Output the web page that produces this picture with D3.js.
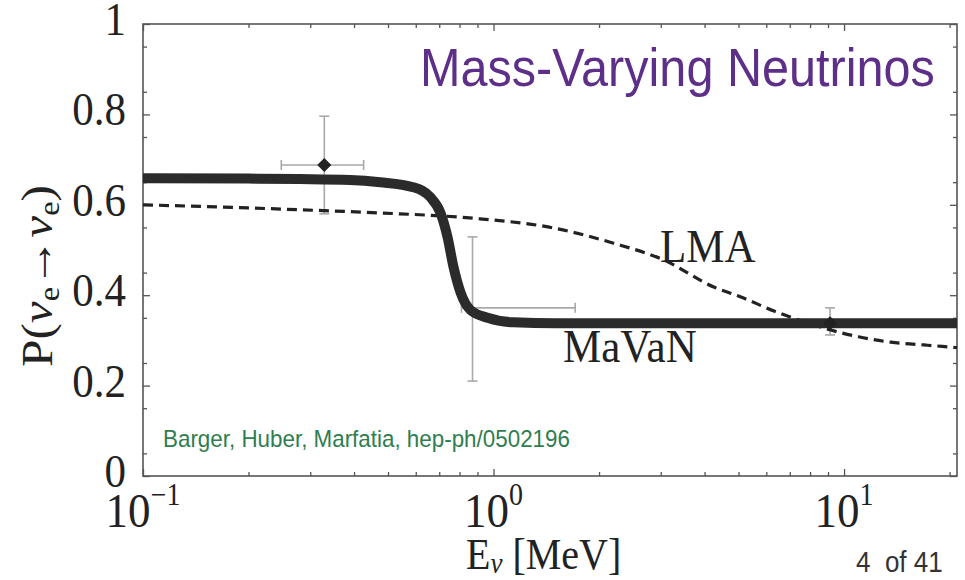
<!DOCTYPE html>
<html>
<head>
<meta charset="utf-8">
<script src="https://cdn.jsdelivr.net/npm/d3@7"></script>
<style>
  body { margin: 0; background: #fff; }
  text { white-space: pre; }
</style>
</head>
<body>
<svg id="grafico" width="965" height="580"></svg>
<script>
// curva MaVaN (linha grossa)
const mavanE = [0.1, 0.2, 0.28, 0.39, 0.475, 0.59, 0.66, 0.706, 0.739, 0.769, 0.806, 0.86, 0.962, 1.14, 1.5, 3, 10, 21];
const mavanP = [0.659, 0.658, 0.657, 0.655, 0.650, 0.639, 0.617, 0.582, 0.529, 0.462, 0.405, 0.367, 0.350, 0.340, 0.338, 0.338, 0.338, 0.338];

// curva LMA (tracejada)
const lmaE = [0.1, 0.2, 0.33, 0.475, 0.914, 1.43, 2.2, 3.06, 4.25, 5.08, 6.31, 7.5, 8.77, 11.0, 13.6, 16.9, 21];
const lmaP = [0.600, 0.593, 0.587, 0.582, 0.569, 0.551, 0.515, 0.478, 0.418, 0.396, 0.365, 0.344, 0.327, 0.308, 0.296, 0.290, 0.284];

// pontos experimentais com barras de erro
const pontoE = [0.329, 0.871, 9.12];
const pontoP = [0.688, 0.372, 0.338];
const pontoEmin = [0.248, 0.81, 9.12];
const pontoEmax = [0.426, 1.71, 9.12];
const pontoPmin = [0.58, 0.21, 0.312];
const pontoPmax = [0.796, 0.529, 0.372];
const pontoMarca = [true, false, true];

// eixos
const yTicks = [0, 0.2, 0.4, 0.6, 0.8, 1];
const yTickLabels = ["0", "0.2", "0.4", "0.6", "0.8", "1"];
const xTicks = [0.1, 1, 10];
const xTickExp = ["\u22121", "0", "1"];

const svg = d3.select("#grafico");
const esq = 143, dir = 957, topo = 24, base = 476;
const serif = "'Liberation Serif', 'DejaVu Serif', serif";
const sans = "'Liberation Sans', Arial, sans-serif";
const esticar = 1.1; // o original está um pouco esticado na vertical

const x = d3.scaleLog().domain([0.1, 21]).range([esq, dir]);
const y = d3.scaleLinear().domain([0, 1]).range([base, topo]);

// ticks menores
const xMenores = [];
[0.1, 1, 10].forEach(d => {
  for (let k = 2; k <= 9; k++) if (k * d <= 21) xMenores.push(k * d);
});
const yMenores = d3.range(0.05, 1, 0.1).map(v => +v.toFixed(2));

function eixo(gerador, transf) {
  const g = svg.append("g").attr("transform", transf).call(gerador);
  g.select(".domain").remove();
  g.selectAll("line").attr("stroke", "#555").attr("stroke-width", 1.3);
  g.selectAll("text").remove();
  return g;
}
eixo(d3.axisBottom(x).tickValues(xTicks).tickSize(-7), `translate(0,${base})`);
eixo(d3.axisBottom(x).tickValues(xMenores).tickSize(-4), `translate(0,${base})`);
eixo(d3.axisTop(x).tickValues(xTicks).tickSize(-7), `translate(0,${topo})`);
eixo(d3.axisTop(x).tickValues(xMenores).tickSize(-4), `translate(0,${topo})`);
eixo(d3.axisLeft(y).tickValues(yTicks).tickSize(-7), `translate(${esq},0)`);
eixo(d3.axisLeft(y).tickValues(yMenores).tickSize(-4), `translate(${esq},0)`);
eixo(d3.axisRight(y).tickValues(yTicks).tickSize(-7), `translate(${dir},0)`);
eixo(d3.axisRight(y).tickValues(yMenores).tickSize(-4), `translate(${dir},0)`);

svg.append("rect")
  .attr("x", esq).attr("y", topo)
  .attr("width", dir - esq).attr("height", base - topo)
  .attr("fill", "none").attr("stroke", "#555").attr("stroke-width", 1.6);

// rótulos do eixo y
yTicks.forEach((v, i) => {
  svg.append("text")
    .attr("transform", `translate(126,${y(v) + 11}) scale(1,${esticar})`)
    .attr("text-anchor", "end")
    .attr("font-family", serif).attr("font-size", 43).attr("fill", "#222")
    .text(yTickLabels[i]);
});

// rótulos do eixo x (10^n)
xTicks.forEach((v, i) => {
  const t = svg.append("text")
    .attr("transform", `translate(${x(v)},527) scale(1,${esticar})`)
    .attr("text-anchor", "middle")
    .attr("font-family", serif).attr("font-size", 45).attr("fill", "#222");
  t.append("tspan").text("10");
  t.append("tspan").attr("font-size", 28).attr("dy", -20).text(xTickExp[i]);
});

// título dos eixos
const tx = svg.append("text")
  .attr("transform", `translate(466,569) scale(1,${esticar})`)
  .attr("font-family", serif).attr("font-size", 40).attr("fill", "#222");
tx.append("tspan").text("E");
tx.append("tspan").attr("font-size", 27).attr("font-style", "italic").attr("dy", 4).text("\u03bd");
tx.append("tspan").attr("dy", -4).text(" [MeV]");

const ty = svg.append("text")
  .attr("transform", "translate(52,276) rotate(-90) scale(1.12,1)")
  .attr("text-anchor", "middle")
  .attr("font-family", serif).attr("font-size", 44).attr("fill", "#222");
ty.append("tspan").text("P(");
ty.append("tspan").attr("font-style", "italic").text("\u03bd");
ty.append("tspan").attr("font-size", 29).attr("dy", 7).text("e");
ty.append("tspan").attr("dy", -7).text("\u2192");
ty.append("tspan").attr("font-style", "italic").text("\u03bd");
ty.append("tspan").attr("font-size", 29).attr("dy", 7).text("e");
ty.append("tspan").attr("dy", -7).text(")");

// barras de erro
const cinza = "#a9a9a9";
const erros = svg.append("g").attr("stroke", cinza).attr("stroke-width", 1.6);
pontoE.forEach((e, i) => {
  const cx = x(e);
  erros.append("line").attr("x1", cx).attr("x2", cx).attr("y1", y(pontoPmin[i])).attr("y2", y(pontoPmax[i]));
  [pontoPmin[i], pontoPmax[i]].forEach(p => {
    erros.append("line").attr("x1", cx - 5).attr("x2", cx + 5).attr("y1", y(p)).attr("y2", y(p));
  });
  if (pontoEmin[i] !== pontoEmax[i]) {
    const cy = y(pontoP[i]);
    erros.append("line").attr("x1", x(pontoEmin[i])).attr("x2", x(pontoEmax[i])).attr("y1", cy).attr("y2", cy);
    [pontoEmin[i], pontoEmax[i]].forEach(el => {
      erros.append("line").attr("x1", x(el)).attr("x2", x(el)).attr("y1", cy - 5).attr("y2", cy + 5);
    });
  }
});

// curvas
svg.append("clipPath").attr("id", "recorte")
  .append("rect").attr("x", esq).attr("y", topo).attr("width", dir - esq).attr("height", base - topo);

const linha = d3.line()
  .x(d => x(d[0]))
  .y(d => y(d[1]))
  .curve(d3.curveMonotoneX);

svg.append("path")
  .datum(lmaE.map((e, i) => [e, lmaP[i]]))
  .attr("clip-path", "url(#recorte)")
  .attr("d", linha)
  .attr("fill", "none")
  .attr("stroke", "#222")
  .attr("stroke-width", 3.2)
  .attr("stroke-dasharray", "10,6");

svg.append("path")
  .datum(mavanE.map((e, i) => [e, mavanP[i]]))
  .attr("clip-path", "url(#recorte)")
  .attr("d", linha)
  .attr("fill", "none")
  .attr("stroke", "#2b2b2b")
  .attr("stroke-width", 10);

// marcadores em losango (por cima das curvas)
const losango = d3.symbol().type(d3.symbolSquare).size(100);
pontoE.forEach((e, i) => {
  if (!pontoMarca[i]) return;
  svg.append("path")
    .attr("d", losango())
    .attr("transform", `translate(${x(e)},${y(pontoP[i])}) rotate(45)`)
    .attr("fill", "#222");
});

// textos
function texto(tx, ty, conteudo, fonte, tamanho, cor) {
  return svg.append("text")
    .attr("transform", `translate(${tx},${ty}) scale(1,${esticar})`)
    .attr("font-family", fonte).attr("font-size", tamanho).attr("fill", cor)
    .text(conteudo);
}
texto(660, 262, "LMA", serif, 43, "#222");
texto(563, 362, "MaVaN", serif, 43, "#222");
texto(420, 86, "Mass-Varying Neutrinos", sans, 48.6, "#5d2f88");
texto(163, 447, "Barger, Huber, Marfatia, hep-ph/0502196", sans, 22.4, "#2f7d50");
texto(856, 572, "4  of 41", "'Liberation Sans Narrow', " + sans, 26, "#333");
</script>
</body>
</html>
